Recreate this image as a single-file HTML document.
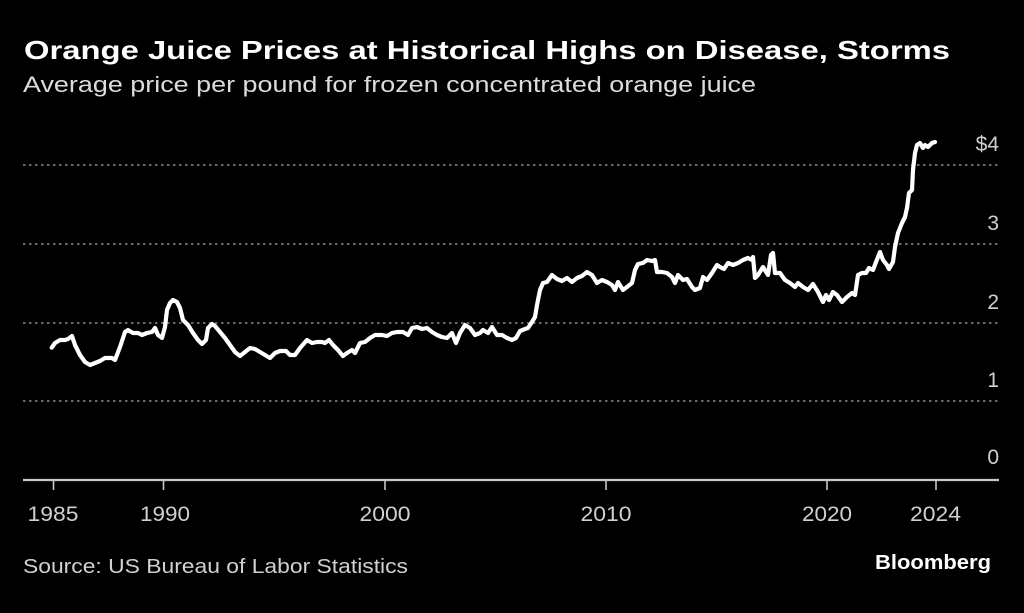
<!DOCTYPE html>
<html>
<head>
<meta charset="utf-8">
<style>
  html, body { margin: 0; padding: 0; background: #000; }
  body { width: 1024px; height: 613px; overflow: hidden; }
  svg { display: block; }
  text { font-family: "Liberation Sans", "DejaVu Sans", sans-serif; }
</style>
</head>
<body>
<svg width="1024" height="613" viewBox="0 0 1024 613" xmlns="http://www.w3.org/2000/svg">
  <rect x="0" y="0" width="1024" height="613" fill="#000"/>

  <!-- Title & subtitle -->
  <text x="24" y="59" font-size="26" font-weight="bold" fill="#ffffff" textLength="926" lengthAdjust="spacingAndGlyphs">Orange Juice Prices at Historical Highs on Disease, Storms</text>
  <text x="23" y="92" font-size="22" fill="#dcdcdc" textLength="733" lengthAdjust="spacingAndGlyphs">Average price per pound for frozen concentrated orange juice</text>

  <!-- Gridlines -->
  <g stroke="#8a8a8a" stroke-width="1.6" stroke-dasharray="2.5 3.5">
    <line x1="23" y1="165" x2="999" y2="165"/>
    <line x1="23" y1="244" x2="999" y2="244"/>
    <line x1="23" y1="323" x2="999" y2="323"/>
    <line x1="23" y1="401" x2="999" y2="401"/>
  </g>

  <!-- Y labels -->
  <g font-size="21" fill="#d0d0d0" text-anchor="end">
    <text x="999" y="151">$4</text>
    <text x="999" y="230">3</text>
    <text x="999" y="309">2</text>
    <text x="999" y="387">1</text>
    <text x="999" y="464">0</text>
  </g>

  <!-- X axis -->
  <line x1="23" y1="480" x2="999" y2="480" stroke="#c8c8c8" stroke-width="2.2"/>
  <g stroke="#c8c8c8" stroke-width="1.6">
    <line x1="53.5" y1="480" x2="53.5" y2="490"/>
    <line x1="163.5" y1="480" x2="163.5" y2="490"/>
    <line x1="385" y1="480" x2="385" y2="490"/>
    <line x1="606" y1="480" x2="606" y2="490"/>
    <line x1="827" y1="480" x2="827" y2="490"/>
    <line x1="936" y1="480" x2="936" y2="490"/>
  </g>
  <g font-size="21" fill="#d0d0d0" text-anchor="middle">
    <text x="53" y="521" textLength="51" lengthAdjust="spacingAndGlyphs">1985</text>
    <text x="165" y="521" textLength="50" lengthAdjust="spacingAndGlyphs">1990</text>
    <text x="385" y="521" textLength="51" lengthAdjust="spacingAndGlyphs">2000</text>
    <text x="606" y="521" textLength="51" lengthAdjust="spacingAndGlyphs">2010</text>
    <text x="827" y="521" textLength="50" lengthAdjust="spacingAndGlyphs">2020</text>
    <text x="935.5" y="521" textLength="51" lengthAdjust="spacingAndGlyphs">2024</text>
  </g>

  <!-- Data line -->
  <polyline fill="none" stroke="#ffffff" stroke-width="4.2" stroke-linejoin="round" stroke-linecap="round"
    points="51.7,347.7 55,343 60,340 65,340 68,339 72,336 75,345 80,355 85,362 90,365 95,363 100,361 105,358 112,358 115,360 120,347 125,332 128,330 133,333 138,333 142,335 147,333 152,332 155,328 158,335 162,338 165,327 167,310 170,303 173,300 177,302 180,308 183,320 188,325 193,333 198,340 202,344 206,340 208,328 212,324 215,326 220,332 225,338 230,345 235,352 240,356 245,352 250,348 255,349 260,352 265,355 270,358 275,353 280,351 286,351 290,355 295,355 300,348 307,340 312,343 317,342 322,342 325,343 329,340 333,345 338,350 343,356 347,353 352,350 355,353 360,343 365,342 370,338 375,335 382,335 387,336 392,333 397,332 403,332 408,335 412,328 417,327 422,329 427,328 432,332 437,335 442,337 447,338 452,333 456,343 460,333 465,325 470,328 475,335 480,333 483,330 488,333 492,327 497,335 502,335 507,338 512,340 516,338 520,331 525,329 528,328 532,322 535,317 537,305 540,290 543,283 547,282 552,275 557,279 562,281 567,278 572,282 577,278 582,276 587,272 592,275 597,283 602,280 607,282 612,285 615,290 618,282 623,290 627,287 632,283 635,270 638,264 643,263 647,260 652,261 655,260 657,272 662,272 667,273 672,277 675,283 678,275 683,280 687,279 692,287 695,290 700,288 703,277 707,280 712,273 717,265 720,267 724,269 728,263 733,265 738,263 743,260 748,258 752,260 753,257 755,278 758,275 763,267 768,275 771,255 773,253 775,273 780,273 785,280 790,283 795,287 798,283 803,287 808,290 813,284 818,292 823,302 826,295 829,300 833,292 837,295 842,302 847,297 852,293 855,295 858,275 862,273 866,273 869,268 873,270 876,262 880,252 883,260 887,265 889,269 893,262 895,247 898,233 902,223 905,217 907,208 909,193 912,190 913,170 915,153 917,145 920,143 923,148 925,145 928,147 932,143 935,142"/>

  <!-- Footer -->
  <text x="23" y="573" font-size="20" fill="#d0d0d0" textLength="385" lengthAdjust="spacingAndGlyphs">Source: US Bureau of Labor Statistics</text>
  <text x="875" y="569" font-size="20" font-weight="bold" fill="#ffffff" textLength="116" lengthAdjust="spacingAndGlyphs">Bloomberg</text>
</svg>
</body>
</html>
